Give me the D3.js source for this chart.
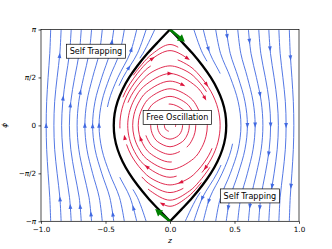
<!DOCTYPE html>
<html>
<head>
<meta charset="utf-8">
<script src="https://cdn.jsdelivr.net/npm/d3@7"></script>
<style>
  body { margin: 0; background: #fff; }
  svg { display: block; font-family: "DejaVu Sans", sans-serif; }
</style>
</head>
<body>
<svg id="chart" width="332" height="249"></svg>
<script>
const PI = Math.PI;

// axes
const zTicks = [-1, -0.5, 0, 0.5, 1];
const zTickLabels = ["−1.0", "−0.5", "0.0", "0.5", "1.0"];
const phiTicks = [-PI, -PI / 2, 0, PI / 2, PI];
const phiTickLabels = [["−", "π", ""], ["−", "π", "/2"], ["", "0", ""], ["", "π", "/2"], ["", "π", ""]];

// separatrix, one quarter (z >= 0, phi >= 0)
const sepPhi = [0, 0.39, 0.79, 1.18, 1.57, 1.96, 2.36, 2.75, PI];
const sepZ = [0.436, 0.429, 0.406, 0.368, 0.316, 0.251, 0.174, 0.089, 0];

// self trapping streamlines: |z| at phi = 0, pi/4, pi/2, 3pi/4, pi
const profilePhi = [0, PI / 4, PI / 2, 3 * PI / 4, PI];
const blueProfiles = [
  [0.960, 0.956, 0.945, 0.932, 0.925],
  [0.900, 0.894, 0.875, 0.854, 0.844],
  [0.840, 0.831, 0.807, 0.779, 0.766],
  [0.780, 0.769, 0.739, 0.704, 0.688],
  [0.720, 0.707, 0.670, 0.628, 0.608],
  [0.660, 0.644, 0.600, 0.549, 0.525],
  [0.600, 0.581, 0.529, 0.467, 0.436],
  [0.550, 0.528, 0.468, 0.392, 0.354],
  [0.500, 0.475, 0.404, 0.310, 0.258],
  [0.470, 0.443, 0.364, 0.253, 0.185],
  [0.450, 0.421, 0.336, 0.210, 0.118]
];
// visible pieces [line, phi from, phi to]
const leftPieces = [[0, -PI, PI], [1, -PI, PI], [2, -PI, PI], [3, -PI, PI], [4, -PI, PI], [5, -PI, PI],
  [6, -PI, PI], [7, -PI, PI], [8, -PI, -1.7], [8, 0.6, PI], [9, -PI, -2.1], [9, 1.3, PI], [10, 2.2, PI]];
const rightPieces = [[0, -PI, PI], [1, -PI, PI], [2, -PI, PI], [3, -PI, PI], [4, -PI, PI], [5, -PI, PI],
  [6, -PI, PI], [7, -PI, PI], [8, -PI, -0.6], [8, 1.7, PI], [9, -PI, -1.3], [9, 2.1, PI], [10, -PI, -2.2]];
// arrows [line, phi]
const leftArrows = [[0, 0], [1, 2.3], [1, -2.4], [2, 0.9], [2, -2.65], [3, 0.67], [3, -2.65], [4, 1.1], [4, -2.9],
  [5, 0], [6, 0], [6, 2.74], [6, -2.9], [7, 0], [8, 2.5], [8, -2.7], [9, 1.9]];
const rightArrows = [[0, 2.2], [0, -2.0], [1, 0], [2, 2.5], [2, -2.0], [3, 0], [3, -0.94], [3, -2.7], [4, 2.75],
  [4, 1.0], [4, -2.65], [5, 0], [6, 2.9], [6, 0], [6, -2.7], [8, 2.5], [8, -2.5], [9, -2.4]];

// free oscillation orbits, one quarter each: [z, phi]
const orbits = [
  [[0.0436, 0], [0.0422, 0.05], [0.0377, 0.1], [0.0288, 0.15], [0, 0.2]],
  [[0.0974, 0], [0.0943, 0.1125], [0.0843, 0.225], [0.0644, 0.3375], [0, 0.45]],
  [[0.1496, 0], [0.1447, 0.175], [0.1290, 0.35], [0.0981, 0.525], [0, 0.7]],
  [[0.1996, 0], [0.1929, 0.2375], [0.1716, 0.475], [0.1299, 0.7125], [0, 0.95]],
  [[0.2463, 0], [0.2379, 0.3], [0.2109, 0.6], [0.1585, 0.9], [0, 1.2]],
  [[0.2893, 0], [0.2788, 0.3625], [0.2460, 0.725], [0.1834, 1.0875], [0, 1.45]],
  [[0.3277, 0], [0.3152, 0.425], [0.2762, 0.85], [0.2035, 1.275], [0, 1.7]],
  [[0.3609, 0], [0.3463, 0.4875], [0.3009, 0.975], [0.2181, 1.4625], [0.1394, 1.75], [0, 1.95]],
  [[0.3886, 0], [0.3715, 0.55], [0.3191, 1.1], [0.2262, 1.65], [0.1485, 1.95], [0, 2.2]],
  [[0.4102, 0], [0.3904, 0.6125], [0.3302, 1.225], [0.2266, 1.8375], [0.1505, 2.15], [0, 2.45]],
  [[0.4229, 0], [0.4004, 0.6625], [0.3333, 1.325], [0.2202, 1.9875], [0.1350, 2.35], [0, 2.65]]
];
// visible stretches of each orbit, as fractions of its length from the bottom, anticlockwise
const orbitSegs = [
  [[0.1, 0.85]],
  [[0.3, 1.15]],
  [[0.55, 1.4]],
  [[0.0, 0.62], [0.7, 0.95]],
  [[0.2, 0.9]],
  [[0.35, 1.2]],
  [[0.25, 0.92]],
  [[0.3, 0.62], [0.75, 1.12]],
  [[0.05, 0.42], [0.5, 0.7], [0.85, 0.98]],
  [[0.4, 0.62], [0.88, 1.08]],
  [[0.43, 0.57], [0.93, 1.05]]
];
// arrows [orbit, z, phi]
const redArrows = [[9, -0.147, 2.26], [9, 0.124, 2.1], [6, 0, 1.7], [5, 0.098, 1.28], [6, 0.279, 0.9],
  [4, -0.238, -0.45], [6, -0.173, -1.32], [10, -0.07, -2.63], [7, 0.085, -1.92], [8, 0.266, -1.37],
  [7, -0.349, -0.39], [8, 0.279, 1.32]];

// green arrows [start, tip]
const greenArrows = [[[0, PI], [0.115, 2.74]], [[0, -PI], [-0.115, -2.74]]];

const labelText = ["Self Trapping", "Free Oscillation", "Self Trapping"];
const labelZ = [-0.574, 0.057, 0.619];
const labelPhi = [2.43, 0.26, -2.31];

const blue = "#4169e1", red = "#dc143c", green = "#008000";

const sx = d3.scaleLinear().domain([-1, 1]).range([41, 299]);
const sy = d3.scaleLinear().domain([-PI, PI]).range([221.3, 29.5]);

const svg = d3.select("#chart");
const defs = svg.append("defs");
defs.append("clipPath").attr("id", "plotArea")
  .append("rect").attr("x", 41).attr("y", 29.5).attr("width", 258).attr("height", 191.8);
const plot = svg.append("g").attr("clip-path", "url(#plotArea)");

const line = d3.line().x(d => sx(d[0])).y(d => sy(d[1])).curve(d3.curveCatmullRom.alpha(0.5));
const loop = d3.line().x(d => sx(d[0])).y(d => sy(d[1])).curve(d3.curveCatmullRomClosed.alpha(0.5));

function arrowAt(node, tx, ty, flip, color, byY) {
  const len = node.getTotalLength();
  let best = 0, bd = Infinity;
  for (let l = 0; l <= len; l += 0.5) {
    const p = node.getPointAtLength(l);
    const d = byY ? Math.abs(p.y - ty) : Math.hypot(p.x - tx, p.y - ty);
    if (d < bd) { bd = d; best = l; }
  }
  const a = node.getPointAtLength(Math.max(0, best - 1));
  const b = node.getPointAtLength(Math.min(len, best + 1));
  let ux = b.x - a.x, uy = b.y - a.y;
  const m = Math.hypot(ux, uy);
  ux /= m; uy /= m;
  if (flip) { ux = -ux; uy = -uy; }
  const c = node.getPointAtLength(best);
  const hl = 2.6, hw = 1.9;
  const pts = [
    [c.x + ux * hl, c.y + uy * hl],
    [c.x - ux * hl - uy * hw, c.y - uy * hl + ux * hw],
    [c.x - ux * hl + uy * hw, c.y - uy * hl - ux * hw]
  ];
  plot.append("polygon").attr("points", pts.map(p => p.join(",")).join(" ")).attr("fill", color);
}

// blue streamlines
const fullLine = (p, sg) => {
  const pts = [];
  for (let i = profilePhi.length - 1; i > 0; i--) pts.push([sg * p[i], -profilePhi[i]]);
  for (let i = 0; i < profilePhi.length; i++) pts.push([sg * p[i], profilePhi[i]]);
  return pts;
};

let clipId = 0;
const drawSide = (pieces, arrows, sg, flip) => {
  const nodes = {};
  pieces.forEach(([k, from, to]) => {
    const id = "piece" + (clipId++);
    defs.append("clipPath").attr("id", id)
      .append("rect").attr("x", 0).attr("y", sy(to)).attr("width", 332).attr("height", sy(from) - sy(to));
    const path = plot.append("path")
      .attr("d", line(fullLine(blueProfiles[k], sg)))
      .attr("clip-path", "url(#" + id + ")")
      .attr("fill", "none").attr("stroke", blue).attr("stroke-width", 0.9);
    if (!nodes[k]) nodes[k] = path.node();
  });
  arrows.forEach(([k, phi]) => arrowAt(nodes[k], 0, sy(phi), flip, blue, true));
};
drawSide(leftPieces, leftArrows, -1, false);
drawSide(rightPieces, rightArrows, 1, true);

// red orbits, broken into stretches like a streamplot
function dashFor(len, segs) {
  const iv = [];
  segs.forEach(([a, b]) => {
    if (b > 1) { iv.push([a, 1]); iv.push([0, b - 1]); } else iv.push([a, b]);
  });
  iv.sort((p, q) => p[0] - q[0]);
  const arr = [0, iv[0][0] * len];
  iv.forEach(([a, b], i) => {
    const next = i + 1 < iv.length ? iv[i + 1][0] : 1;
    arr.push((b - a) * len, (next - b) * len + (i + 1 < iv.length ? 0 : len));
  });
  return arr.join(" ");
}

const orbitNodes = orbits.map((q, k) => {
  const right = [...q.slice(1).reverse().map(([z, p]) => [z, -p]), ...q];
  const left = right.slice(1, -1).reverse().map(([z, p]) => [-z, p]);
  const path = plot.append("path")
    .attr("d", loop(right.concat(left)))
    .attr("fill", "none").attr("stroke", red).attr("stroke-width", 0.9);
  const node = path.node();
  path.attr("stroke-dasharray", dashFor(node.getTotalLength(), orbitSegs[k]));
  return node;
});
redArrows.forEach(([k, z, phi]) => arrowAt(orbitNodes[k], sx(z), sy(phi), true, red, false));

// separatrix
const sepPts = sepPhi.map((p, i) => [sepZ[i], p]);
const branch = [...sepPts.slice().reverse(), ...sepPts.slice(1).map(([z, p]) => [z, -p])];
[1, -1].forEach(sg => {
  plot.append("path")
    .attr("d", line(branch.map(([z, p]) => [sg * z, p])))
    .attr("fill", "none").attr("stroke", "#000").attr("stroke-width", 2.3);
});

// green arrows
greenArrows.forEach(([s, t]) => {
  const x0 = sx(s[0]), y0 = sy(s[1]), x1 = sx(t[0]), y1 = sy(t[1]);
  let ux = x1 - x0, uy = y1 - y0;
  const m = Math.hypot(ux, uy);
  ux /= m; uy /= m;
  const nx = -uy, ny = ux;
  const sh = 1.3, hw = 4, hl = 7;
  const bx = x1 - ux * hl, by = y1 - uy * hl;
  const pts = [
    [x0 + nx * sh, y0 + ny * sh], [bx + nx * sh, by + ny * sh], [bx + nx * hw, by + ny * hw],
    [x1, y1], [bx - nx * hw, by - ny * hw], [bx - nx * sh, by - ny * sh], [x0 - nx * sh, y0 - ny * sh]
  ];
  plot.append("polygon").attr("points", pts.map(p => p.join(",")).join(" ")).attr("fill", green);
});

// frame
svg.append("rect").attr("x", 41).attr("y", 29.5).attr("width", 258).attr("height", 191.8)
  .attr("fill", "none").attr("stroke", "#000").attr("stroke-width", 0.7);

// axes
const xAxis = svg.append("g").attr("transform", "translate(0,221.3)")
  .call(d3.axisBottom(sx).tickValues(zTicks).tickFormat((d, i) => zTickLabels[i]).tickSize(2.5).tickPadding(3))
  .attr("font-size", 7.2).attr("font-family", "DejaVu Sans");
xAxis.select(".domain").remove();
xAxis.selectAll("line").attr("stroke-width", 0.7);
xAxis.selectAll("text").attr("fill", "#000");

const yAxis = svg.append("g").attr("transform", "translate(41,0)")
  .call(d3.axisLeft(sy).tickValues(phiTicks).tickSize(2.5).tickPadding(2.5))
  .attr("font-size", 7.2).attr("font-family", "DejaVu Sans");
yAxis.select(".domain").remove();
yAxis.selectAll("line").attr("stroke-width", 0.7);
yAxis.selectAll("text").attr("fill", "#000").text(null).each(function (d, i) {
  const t = d3.select(this);
  const [pre, mid, post] = phiTickLabels[i];
  if (pre) t.append("tspan").text(pre);
  t.append("tspan").attr("font-style", mid === "π" ? "italic" : null).text(mid);
  if (post) t.append("tspan").text(post);
});

svg.append("text").attr("x", 170).attr("y", 243).attr("text-anchor", "middle")
  .attr("font-size", 7.2).attr("font-style", "italic").text("z");
svg.append("text").attr("transform", "translate(7,125.4) rotate(-90)").attr("text-anchor", "middle")
  .attr("font-size", 7.2).attr("font-style", "italic").text("ϕ");

// text boxes
labelText.forEach((txt, i) => {
  const g = svg.append("g");
  const rect = g.append("rect");
  const t = g.append("text").attr("x", sx(labelZ[i])).attr("y", sy(labelPhi[i]))
    .attr("text-anchor", "middle").attr("dy", "0.35em").attr("font-size", 8.1).attr("fill", "#000").text(txt);
  const bb = t.node().getBBox();
  rect.attr("x", bb.x - 3.2).attr("y", sy(labelPhi[i]) - 7).attr("width", bb.width + 6.4).attr("height", 14)
    .attr("fill", "#fff").attr("stroke", "#000").attr("stroke-width", 0.7);
});
</script>
</body>
</html>
